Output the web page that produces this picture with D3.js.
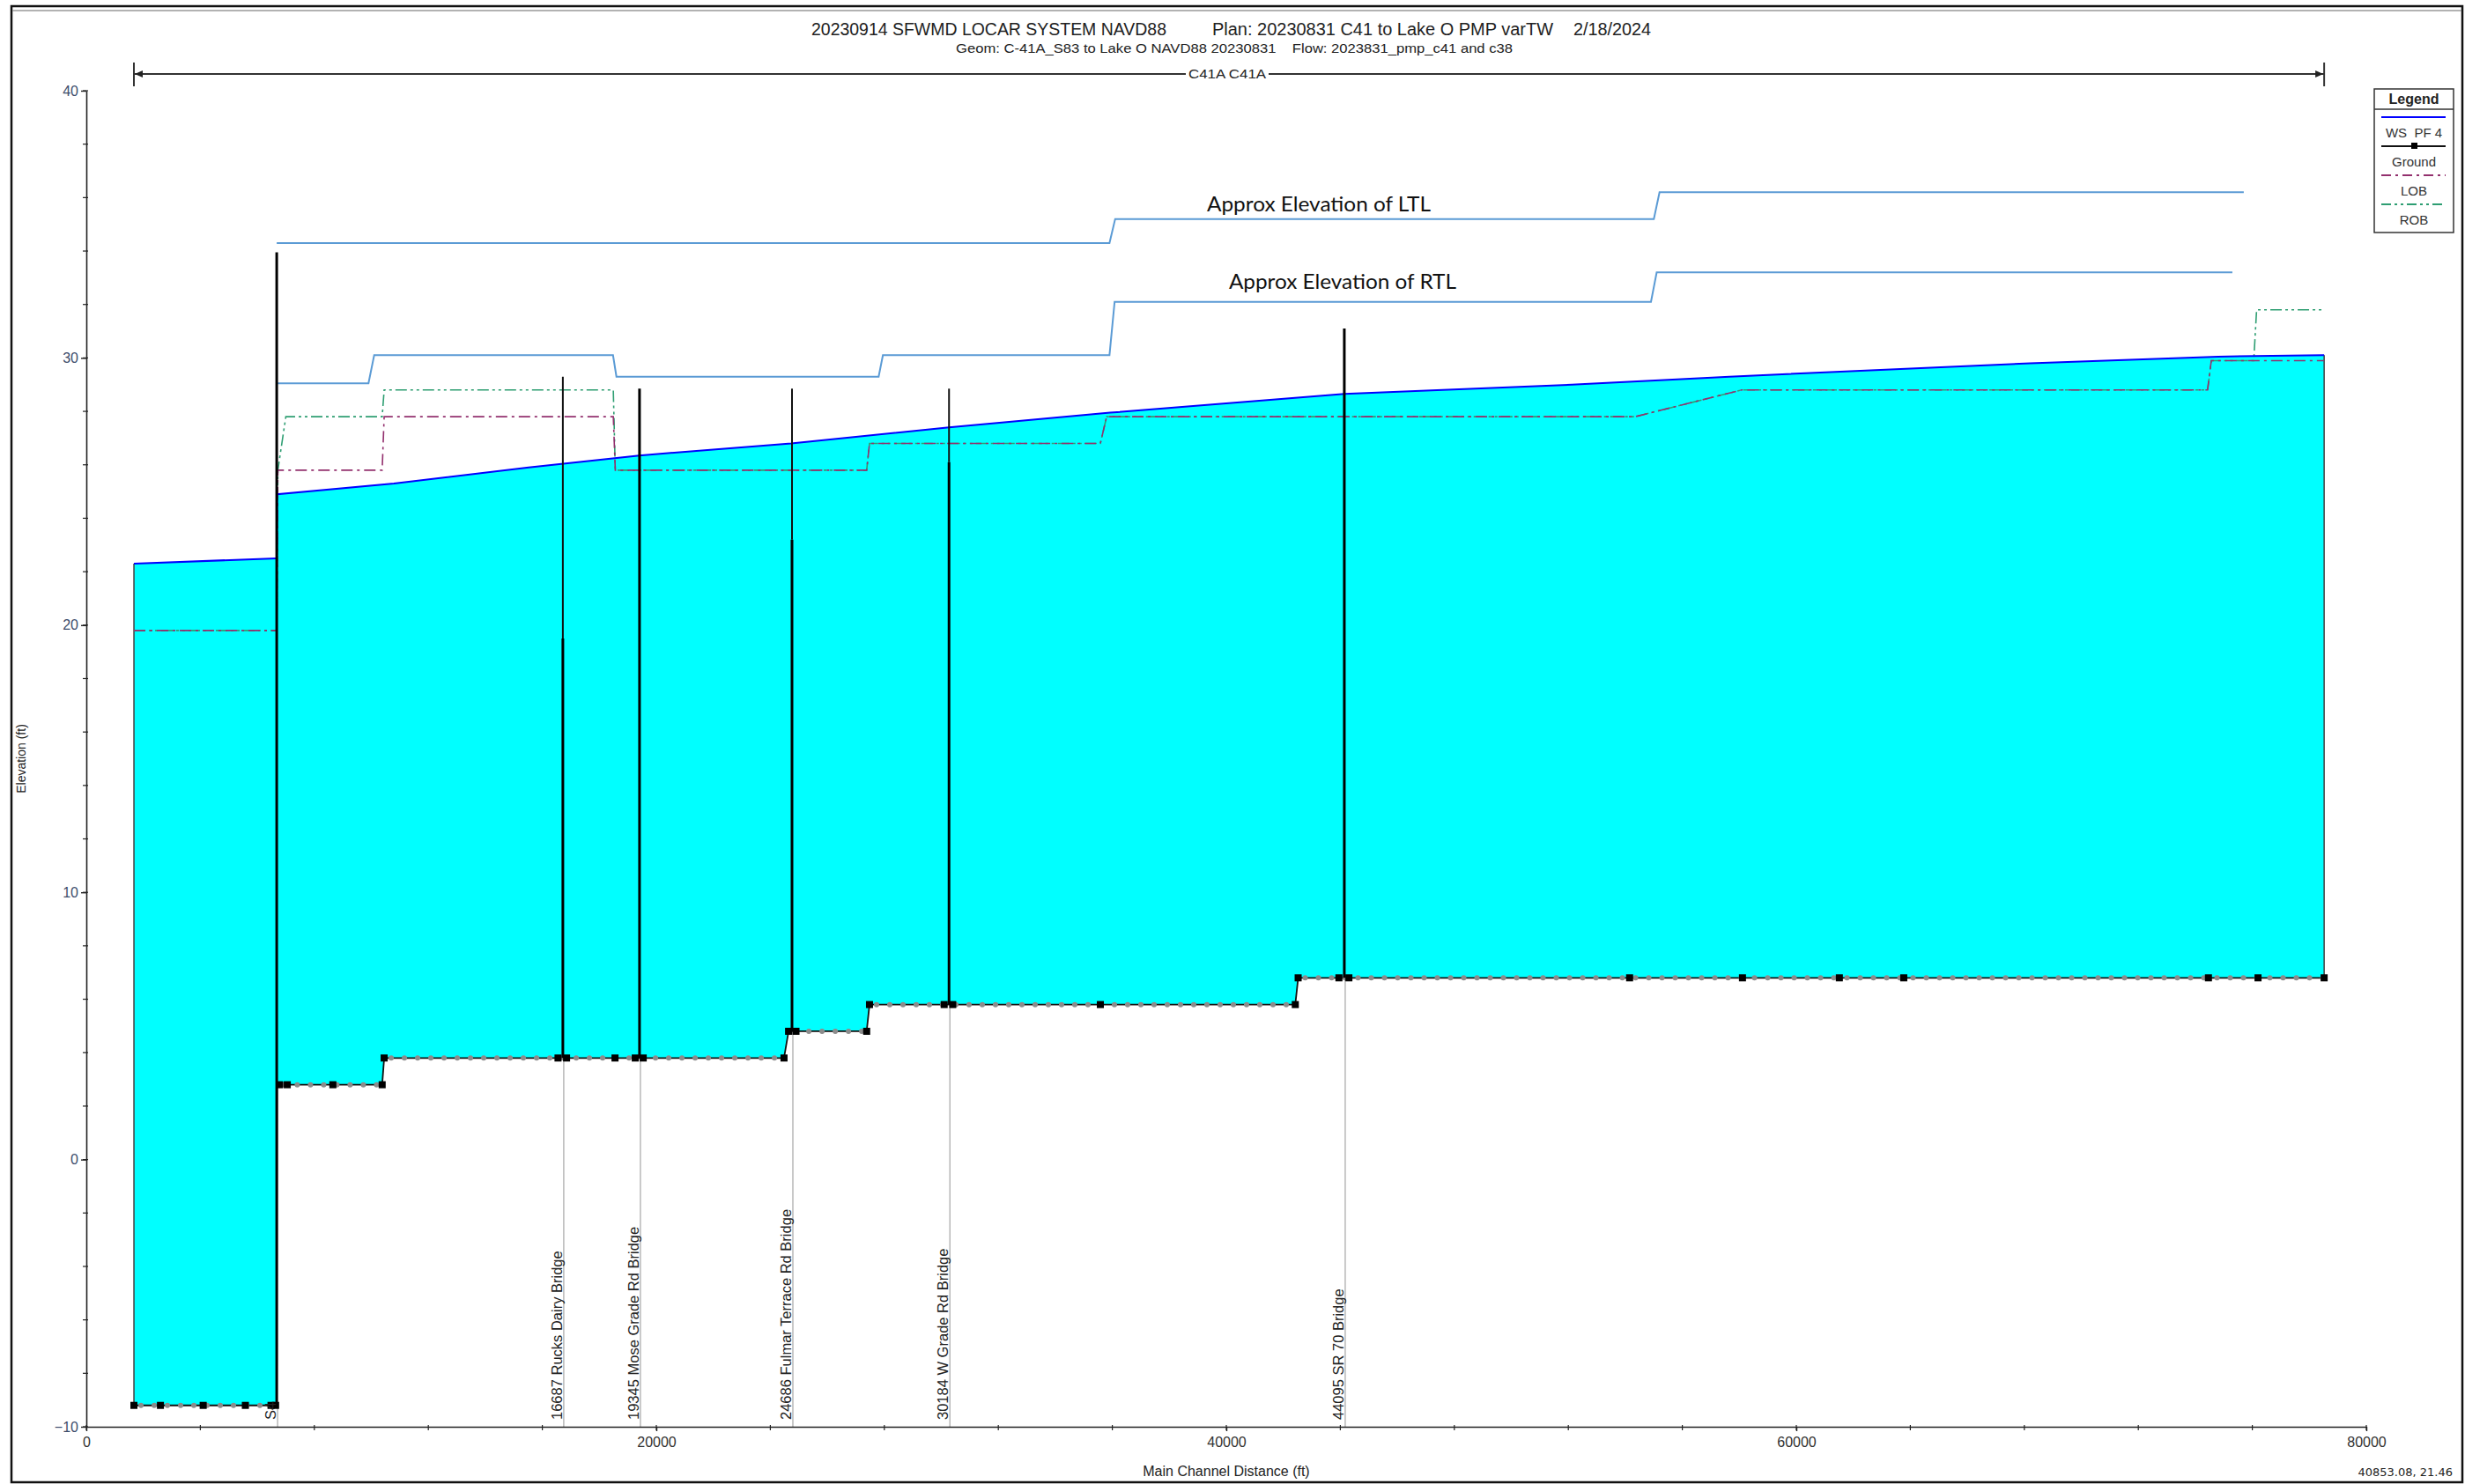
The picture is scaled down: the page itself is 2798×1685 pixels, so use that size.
<!DOCTYPE html>
<html>
<head>
<meta charset="utf-8">
<title>C41A profile</title>
<style>
	body { margin: 0; background: #fff; }
	svg text { font-family: "Liberation Sans", Arial, sans-serif; }
	.pre { white-space: pre; }
</style>
</head>
<body>
<script src="https://cdnjs.cloudflare.com/ajax/libs/d3/7.8.5/d3.min.js"></script>
<script>

// ---- data (station ft, elevation ft) ----
var xTicks = [0, 20000, 40000, 60000, 80000];
var yTicks = [-10, 0, 10, 20, 30, 40];

var waterSurface = [
	[1670, 22.3], [6680, 22.5], [6690, 24.9], [10790, 25.3], [15520, 25.9],
	[19400, 26.35], [24730, 26.8], [30270, 27.4], [35920, 27.95], [44140, 28.65],
	[52120, 29.0], [57650, 29.3], [68200, 29.8], [74800, 30.05], [78520, 30.1]
];

var ground = [
	[1670, -9.2], [6680, -9.2], [6690, 2.8], [10380, 2.8], [10450, 3.8],
	[24480, 3.8], [24640, 4.8], [27380, 4.8], [27480, 5.8], [42420, 5.8],
	[42520, 6.8], [78520, 6.8]
];

var crossSections = [
	[1670, -9.2], [2600, -9.2], [4100, -9.2], [5580, -9.2], [6480, -9.2], [6640, -9.2],
	[6780, 2.8], [7050, 2.8], [8650, 2.8], [10380, 2.8], [10450, 3.8],
	[16550, 3.8], [16850, 3.8], [18550, 3.8], [19260, 3.8], [19540, 3.8],
	[24480, 3.8], [24640, 4.8], [24900, 4.8], [27380, 4.8], [27480, 5.8],
	[30100, 5.8], [30400, 5.8], [35580, 5.8], [42420, 5.8], [42520, 6.8],
	[43950, 6.8], [44300, 6.8], [54150, 6.8], [58110, 6.8], [61510, 6.8],
	[63770, 6.8], [74460, 6.8], [76200, 6.8], [78520, 6.8]
];

var lob = [
	[1670, 19.8], [6680, 19.8], [6720, 25.8], [10380, 25.8], [10450, 27.8],
	[18490, 27.8], [18560, 25.8], [27380, 25.8], [27480, 26.8], [35580, 26.8],
	[35800, 27.8], [54340, 27.8], [58080, 28.8], [74430, 28.8], [74560, 29.9],
	[78520, 29.9]
];

var rob = [
	[1670, 19.8], [6680, 19.8], [6720, 25.8], [7000, 27.8], [10380, 27.8],
	[10450, 28.8], [18490, 28.8], [18560, 25.8], [27380, 25.8], [27480, 26.8],
	[35580, 26.8], [35800, 27.8], [54340, 27.8], [58080, 28.8], [74430, 28.8],
	[74560, 29.9], [76050, 29.9], [76150, 31.8], [78520, 31.8]
];

// hand drawn levee lines added on top of the plot
var ltl = [[6680, 34.3], [35900, 34.3], [36100, 35.2], [55000, 35.2], [55200, 36.2], [75700, 36.2]];
var rtl = [
	[6680, 29.05], [9900, 29.05], [10100, 30.1], [18480, 30.1], [18600, 29.3],
	[27800, 29.3], [27950, 30.1], [35900, 30.1], [36080, 32.1], [54900, 32.1],
	[55100, 33.2], [75300, 33.2]
];

var bridgeNames = ["S4", "16687 Rucks Dairy Bridge", "19345 Mose Grade Rd Bridge",
	"24686 Fulmar Terrace Rd Bridge", "30184 W Grade Rd Bridge", "44095 SR 70 Bridge"];
var bridgeStations = [6680, 16720, 19410, 24760, 30270, 44140];
var bridgeTops = [33.95, 29.3, 28.85, 28.85, 28.85, 31.1];
var bridgeChords = [33.95, 19.5, 28.85, 23.2, 26.1, 31.1];
var bridgeInverts = [-9.2, 3.8, 3.8, 4.8, 5.8, 6.8];

var legendLabels = ["WS  PF 4", "Ground", "LOB", "ROB"];

// ---- layout ----
var width = 2798;
var height = 1685;
var cyan = "#00ffff";
var wsBlue = "#0000ff";
var leveeBlue = "#5b9bd5";
var lobColor = "#93306e";
var robColor = "#2e9e72";

var svg = d3.select("body").append("svg")
	.attr("width", width)
	.attr("height", height);

var x = d3.scaleLinear().domain([0, 80000]).range([98, 2686]);
var y = d3.scaleLinear().domain([-10, 40]).range([1620, 103]);

var line = d3.line()
	.x(function(d) { return x(d[0]); })
	.y(function(d) { return y(d[1]); });

// frame
svg.append("rect")
	.attr("x", 13).attr("y", 7)
	.attr("width", 2782).attr("height", 1676)
	.attr("fill", "none").attr("stroke", "#111").attr("stroke-width", 2.5);
svg.append("line")
	.attr("x1", 14).attr("x2", 2794).attr("y1", 12).attr("y2", 12)
	.attr("stroke", "#999").attr("stroke-width", 1.5);

// water fill between WS and ground
svg.append("path")
	.attr("d", line(waterSurface.concat(ground.slice().reverse())) + "Z")
	.attr("fill", cyan)
	.attr("stroke", "none");

// end walls of the wetted area
[0, waterSurface.length - 1].forEach(function(i) {
	var st = waterSurface[i][0];
	var g = i === 0 ? ground[0][1] : ground[ground.length - 1][1];
	svg.append("line")
		.attr("x1", x(st)).attr("x2", x(st))
		.attr("y1", y(g)).attr("y2", y(waterSurface[i][1]))
		.attr("stroke", "#404040").attr("stroke-width", 1.5);
});

// levee lines
svg.append("path").attr("d", line(ltl))
	.attr("fill", "none").attr("stroke", leveeBlue).attr("stroke-width", 2);
svg.append("path").attr("d", line(rtl))
	.attr("fill", "none").attr("stroke", leveeBlue).attr("stroke-width", 2);

// bank stations (LOB drawn last so it sits on top where they coincide)
svg.append("path").attr("d", line(rob))
	.attr("fill", "none").attr("stroke", robColor).attr("stroke-width", 1.6)
	.attr("stroke-dasharray", "13,4,3,4,3,4");
svg.append("path").attr("d", line(lob))
	.attr("fill", "none").attr("stroke", lobColor).attr("stroke-width", 1.6)
	.attr("stroke-dasharray", "13,5,3,5");

// water surface
svg.append("path").attr("d", line(waterSurface.slice(0, 2)))
	.attr("fill", "none").attr("stroke", wsBlue).attr("stroke-width", 2);
svg.append("path").attr("d", line(waterSurface.slice(1)))
	.attr("fill", "none").attr("stroke", wsBlue).attr("stroke-width", 2);

// gray leader lines under the structures
svg.append("g")
	.selectAll("line")
	.data(bridgeStations)
	.join("line")
		.attr("x1", function(d) { return x(d) + 1; })
		.attr("x2", function(d) { return x(d) + 1; })
		.attr("y1", function(d, i) { return y(bridgeInverts[i]); })
		.attr("y2", y(-10))
		.attr("stroke", "#b8b8b8").attr("stroke-width", 1.5);

// ground line, with gray dots for the interpolated sections on the flat runs
svg.append("path").attr("d", line(ground))
	.attr("fill", "none").attr("stroke", "#111").attr("stroke-width", 1.8);
var flatRuns = [];
for (var i = 0; i < ground.length - 1; i++) {
	if (ground[i][1] === ground[i + 1][1]) flatRuns.push([ground[i], ground[i + 1]]);
}
svg.append("g").selectAll("path")
	.data(flatRuns)
	.join("path")
		.attr("d", line)
		.attr("fill", "none").attr("stroke", "#8c8c8c").attr("stroke-width", 6)
		.attr("stroke-linecap", "round").attr("stroke-dasharray", "0,15")
		.attr("stroke-dashoffset", -8);

// bridges / structure
var br = svg.append("g").selectAll("g")
	.data(bridgeStations)
	.join("g");
br.append("line")
	.attr("x1", function(d) { return x(d); })
	.attr("x2", function(d) { return x(d); })
	.attr("y1", function(d, i) { return y(bridgeTops[i]); })
	.attr("y2", function(d, i) { return y(bridgeChords[i]); })
	.attr("stroke", "#111").attr("stroke-width", 2);
br.append("line")
	.attr("x1", function(d) { return x(d); })
	.attr("x2", function(d) { return x(d); })
	.attr("y1", function(d, i) { return y(bridgeChords[i]); })
	.attr("y2", function(d, i) { return y(bridgeInverts[i]); })
	.attr("stroke", "#000").attr("stroke-width", 3);

// cross section markers
svg.append("g")
	.selectAll("rect")
	.data(crossSections)
	.join("rect")
		.attr("x", function(d) { return x(d[0]) - 4; })
		.attr("y", function(d) { return y(d[1]) - 4; })
		.attr("width", 8).attr("height", 8)
		.attr("fill", "#000");

// structure labels
svg.append("g")
	.attr("font-size", 16.5)
	.attr("fill", "#222")
	.selectAll("text")
	.data(bridgeNames)
	.join("text")
		.attr("transform", function(d, i) { return "translate(" + (x(bridgeStations[i]) - 1) + "," + (y(-10) - 8) + ") rotate(-90)"; })
		.text(function(d) { return d; });

// axes
var xAxis = svg.append("g")
	.attr("transform", "translate(0," + y(-10) + ")")
	.call(d3.axisBottom(x).tickValues(xTicks).tickSizeInner(5).tickSizeOuter(0).tickPadding(7).tickFormat(d3.format("d")));
var yAxis = svg.append("g")
	.attr("transform", "translate(" + x(0) + ",0)")
	.call(d3.axisLeft(y).tickValues(yTicks).tickSizeInner(6).tickSizeOuter(0).tickPadding(3));
[xAxis, yAxis].forEach(function(a) {
	a.select(".domain").attr("stroke", "#222").attr("stroke-width", 1.6);
	a.selectAll(".tick line").attr("stroke", "#222").attr("stroke-width", 1.4);
	a.selectAll("text").attr("font-size", 16).attr("font-family", "Liberation Sans, Arial, sans-serif");
});
xAxis.selectAll("text").attr("fill", "#333");
yAxis.selectAll("text").attr("fill", "#3d4c6b");

// minor ticks
svg.append("g").selectAll("line")
	.data(d3.range(0, 80001, 4000))
	.join("line")
		.attr("x1", function(d) { return x(d); }).attr("x2", function(d) { return x(d); })
		.attr("y1", y(-10) - 2).attr("y2", y(-10) + 4)
		.attr("stroke", "#222").attr("stroke-width", 1.2);
svg.append("g").selectAll("line")
	.data(d3.range(-10, 40.1, 2))
	.join("line")
		.attr("x1", x(0) - 4).attr("x2", x(0) + 2)
		.attr("y1", function(d) { return y(d); }).attr("y2", function(d) { return y(d); })
		.attr("stroke", "#222").attr("stroke-width", 1.2);

// axis titles
svg.append("text")
	.attr("transform", "translate(29," + y(15) + ") rotate(-90)")
	.attr("text-anchor", "middle")
	.attr("font-size", 14).attr("fill", "#222")
	.text("Elevation (ft)");
svg.append("text")
	.attr("x", x(40000)).attr("y", 1676)
	.attr("text-anchor", "middle")
	.attr("font-size", 16).attr("fill", "#222")
	.text("Main Channel Distance (ft)");
svg.append("text")
	.attr("x", 2784).attr("y", 1676)
	.attr("text-anchor", "end")
	.attr("font-size", 13).attr("fill", "#222")
	.style("font-family", "DejaVu Sans, sans-serif")
	.text("40853.08, 21.46");

// titles
function fitted(txt, x0, x1, yb, size) {
	svg.append("text")
		.attr("class", "pre")
		.attr("x", x0).attr("y", yb)
		.attr("font-size", size).attr("fill", "#222")
		.attr("textLength", x1 - x0).attr("lengthAdjust", "spacingAndGlyphs")
		.text(txt);
}
fitted("20230914 SFWMD LOCAR SYSTEM NAVD88", 921, 1324, 40, 20);
fitted("Plan: 20230831 C41 to Lake O PMP varTW", 1376, 1763, 40, 20);
fitted("2/18/2024", 1786, 1874, 40, 20);
fitted("Geom: C-41A_S83 to Lake O NAVD88 20230831    Flow: 2023831_pmp_c41 and c38", 1085, 1717, 60, 15.5);

// reach indicator
var rx0 = x(waterSurface[0][0]);
var rx1 = x(waterSurface[waterSurface.length - 1][0]);
var ry = 84;
var reach = svg.append("g").attr("stroke", "#333").attr("stroke-width", 2);
reach.append("line").attr("x1", rx0).attr("x2", 1346).attr("y1", ry).attr("y2", ry);
reach.append("line").attr("x1", 1440).attr("x2", rx1).attr("y1", ry).attr("y2", ry);
reach.append("line").attr("x1", rx0).attr("x2", rx0).attr("y1", ry - 13).attr("y2", ry + 14);
reach.append("line").attr("x1", rx1).attr("x2", rx1).attr("y1", ry - 13).attr("y2", ry + 14);
svg.append("path")
	.attr("d", "M" + (rx0 + 1) + "," + ry + "l9,-4l0,8z").attr("fill", "#222");
svg.append("path")
	.attr("d", "M" + (rx1 - 1) + "," + ry + "l-9,-4l0,8z").attr("fill", "#222");
svg.append("text")
	.attr("x", 1349).attr("y", ry + 5)
	.attr("font-size", 14).attr("fill", "#222")
	.attr("textLength", 88).attr("lengthAdjust", "spacingAndGlyphs")
	.text("C41A C41A");

// annotations
svg.append("defs").append("clipPath").attr("id", "rtlclip")
	.append("rect").attr("x", 0).attr("y", 0).attr("width", width).attr("height", y(32.38));
svg.append("text")
	.attr("x", x(39320)).attr("y", y(35.48))
	.attr("font-size", 24).attr("fill", "#111")
	.style("font-family", "Lato, 'Open Sans', sans-serif")
	.attr("textLength", 254).attr("lengthAdjust", "spacingAndGlyphs")
	.text("Approx Elevation of LTL");
svg.append("text")
	.attr("x", x(40090)).attr("y", y(32.57))
	.attr("clip-path", "url(#rtlclip)")
	.attr("font-size", 24).attr("fill", "#111")
	.style("font-family", "Lato, 'Open Sans', sans-serif")
	.attr("textLength", 258).attr("lengthAdjust", "spacingAndGlyphs")
	.text("Approx Elevation of RTL");

// legend
var lg = svg.append("g").attr("transform", "translate(2695,101)");
lg.append("rect").attr("width", 90).attr("height", 163)
	.attr("fill", "#fff").attr("stroke", "#333").attr("stroke-width", 1.5);
lg.append("line").attr("x1", 0).attr("x2", 90).attr("y1", 23).attr("y2", 23)
	.attr("stroke", "#333").attr("stroke-width", 1.5);
lg.append("text").attr("x", 45).attr("y", 17).attr("text-anchor", "middle")
	.attr("font-size", 16).attr("font-weight", "bold").attr("fill", "#222")
	.text("Legend");

var sampleStroke = [wsBlue, "#111", lobColor, robColor];
var sampleDash = [null, null, "11,5,3,5", "11,4,3,4,3,4"];
var item = lg.selectAll("g.item")
	.data(legendLabels)
	.join("g")
		.attr("class", "item")
		.attr("transform", function(d, i) { return "translate(0," + (32 + i * 33) + ")"; });
item.append("line")
	.attr("x1", 8).attr("x2", 81).attr("y1", 0).attr("y2", 0)
	.attr("stroke", function(d, i) { return sampleStroke[i]; })
	.attr("stroke-width", 1.8)
	.attr("stroke-dasharray", function(d, i) { return sampleDash[i]; });
item.filter(function(d, i) { return i === 1; })
	.append("rect").attr("x", 42).attr("y", -4).attr("width", 7).attr("height", 7).attr("fill", "#000");
item.append("text")
	.attr("class", "pre")
	.attr("x", 45).attr("y", 23).attr("text-anchor", "middle")
	.attr("font-size", 15).attr("fill", "#333")
	.text(function(d) { return d; });

</script>
</body>
</html>
